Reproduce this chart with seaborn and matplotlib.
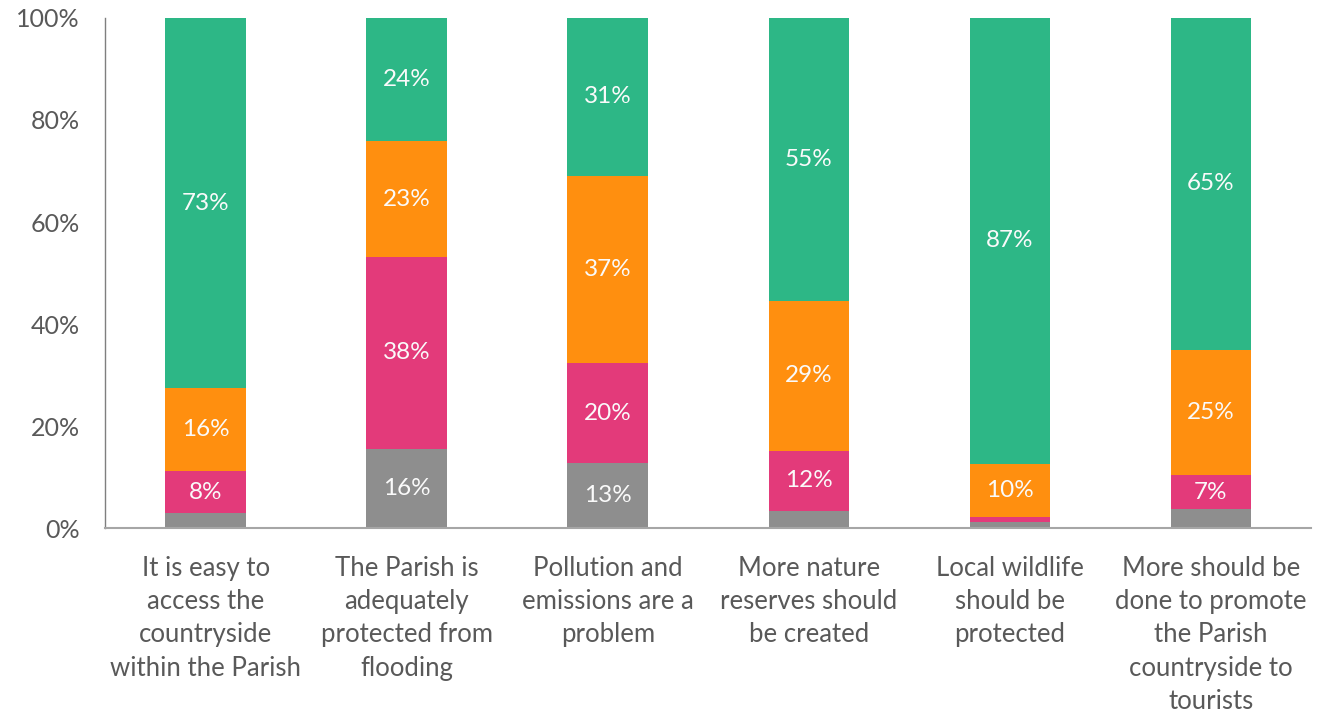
import matplotlib
matplotlib.use("Agg")
import matplotlib.pyplot as plt
import seaborn as sns
import pandas as pd
import numpy as np

categories = [
    "It is easy to\naccess the\ncountryside\nwithin the Parish",
    "The Parish is\nadequately\nprotected from\nflooding",
    "Pollution and\nemissions are a\nproblem",
    "More nature\nreserves should\nbe created",
    "Local wildlife\nshould be\nprotected",
    "More should be\ndone to promote\nthe Parish\ncountryside to\ntourists",
]
gray_vals = [3.0, 15.6, 12.7, 3.4, 1.3, 3.7]
pink_vals = [8.2, 37.6, 19.6, 11.8, 1.0, 6.7]
orange_vals = [16.2, 22.6, 36.8, 29.4, 10.3, 24.6]
green_vals = [72.6, 24.2, 30.9, 55.4, 87.4, 65.0]

series_names = ["gray", "pink", "orange", "green"]
series_vals = [gray_vals, pink_vals, orange_vals, green_vals]
colors = {"gray": "#8E8E8E", "pink": "#E33A7A", "orange": "#FF8F0F", "green": "#2DB786"}

sns.set_style("white")
plt.rcParams["font.family"] = ["Lato", "DejaVu Sans"]

fig = plt.figure(figsize=(13.3, 7.12), dpi=100)
ax = fig.add_axes([0.079, 0.258, 0.907, 0.717])

cum = np.cumsum(np.array(series_vals, dtype=float), axis=0)
# draw from top (largest cumulative) to bottom so lower segments overlay
for i in range(len(series_names) - 1, -1, -1):
    df = pd.DataFrame({"cat": categories, "val": np.minimum(cum[i], 100)})
    sns.barplot(data=df, x="cat", y="val", color=colors[series_names[i]],
                width=0.4, ax=ax, saturation=1, edgecolor="none")

# labels
for i, name in enumerate(series_names):
    for j in range(len(categories)):
        v = series_vals[i][j]
        if v >= 5:
            base = cum[i][j] - v
            top = min(cum[i][j], 100)
            ax.text(j, (base + top) / 2, f"{v:.0f}%", ha="center", va="center",
                    color="#FAFAFA", fontsize=17.5)

ax.set_ylim(0, 100)
ax.set_xlim(-0.5, 5.5)
ax.set_yticks([0, 20, 40, 60, 80, 100])
ax.set_yticklabels([f"{t}%" for t in [0, 20, 40, 60, 80, 100]])
ax.set_xlabel("")
ax.set_ylabel("")
ax.tick_params(axis="y", length=0, pad=18, labelsize=18, labelcolor="#595959")
ax.tick_params(axis="x", length=0, pad=20, labelsize=18.5, labelcolor="#595959")
for lab in ax.get_xticklabels():
    lab.set_linespacing(1.41)
for s in ["top", "right"]:
    ax.spines[s].set_visible(False)
ax.spines["left"].set_color("#7f7f7f")
ax.spines["left"].set_linewidth(1.0)
ax.spines["bottom"].set_color("#A6A6A6")
ax.spines["bottom"].set_linewidth(1.5)

fig.savefig("out.png", dpi=100)
